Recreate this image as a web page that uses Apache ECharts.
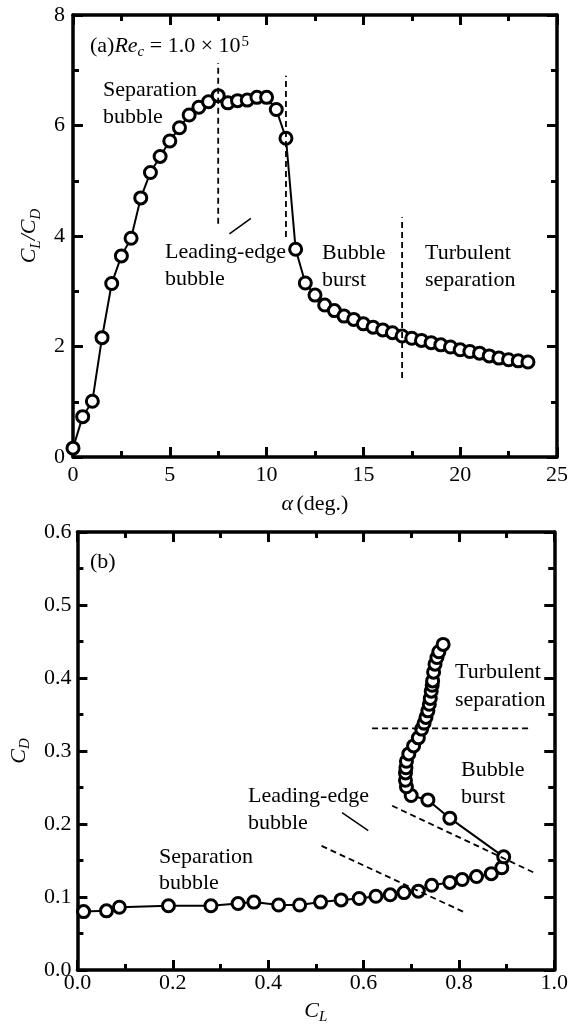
<!DOCTYPE html>
<html>
<head>
<meta charset="utf-8">
<script src="https://cdn.jsdelivr.net/npm/echarts@6/dist/echarts.min.js"></script>
<style>
  html, body { margin: 0; padding: 0; background: #fff; }
  #chart { width: 571px; height: 1026px; }
</style>
</head>
<body>
<div id="chart"></div>
<script>
// angle of attack (deg.)
var alpha = [0, 0.5, 1, 1.5, 2, 2.5, 3, 3.5, 4, 4.5, 5, 5.5, 6, 6.5, 7, 7.5, 8, 8.5, 9, 9.5,
  10, 10.5, 11, 11.5, 12, 12.5, 13, 13.5, 14, 14.5, 15, 15.5, 16, 16.5, 17, 17.5, 18, 18.5,
  19, 19.5, 20, 20.5, 21, 21.5, 22, 22.5, 23, 23.5];
// lift-to-drag ratio CL/CD
var liftDrag = [0.16, 0.73, 1.01, 2.16, 3.14, 3.64, 3.96, 4.69, 5.15, 5.44, 5.72, 5.96, 6.19,
  6.33, 6.43, 6.54, 6.41, 6.45, 6.46, 6.51, 6.51, 6.29, 5.77, 3.76, 3.15, 2.93, 2.75, 2.65,
  2.55, 2.49, 2.41, 2.35, 2.30, 2.25, 2.19, 2.15, 2.11, 2.07, 2.03, 1.99, 1.94, 1.91, 1.88,
  1.83, 1.79, 1.76, 1.74, 1.72];
// lift coefficient CL
var cl = [0.013, 0.061, 0.088, 0.191, 0.280, 0.337, 0.370, 0.422, 0.466, 0.510, 0.553, 0.591,
  0.626, 0.656, 0.685, 0.715, 0.743, 0.781, 0.807, 0.837, 0.868, 0.890, 0.894, 0.781, 0.735,
  0.700, 0.690, 0.688, 0.688, 0.689, 0.690, 0.695, 0.705, 0.715, 0.722, 0.727, 0.731, 0.735,
  0.738, 0.740, 0.742, 0.744, 0.745, 0.747, 0.750, 0.754, 0.758, 0.767];
// drag coefficient CD
var cd = [0.080, 0.081, 0.086, 0.088, 0.088, 0.091, 0.093, 0.089, 0.089, 0.093, 0.096, 0.098,
  0.101, 0.103, 0.106, 0.108, 0.116, 0.120, 0.124, 0.128, 0.132, 0.140, 0.155, 0.208, 0.233,
  0.239, 0.251, 0.260, 0.270, 0.277, 0.286, 0.296, 0.307, 0.318, 0.330, 0.338, 0.346, 0.355,
  0.364, 0.372, 0.382, 0.390, 0.396, 0.408, 0.419, 0.428, 0.436, 0.446];

// regime boundaries, (a): alpha vs CL/CD
var bound75 = [[7.5, 4.22], [7.5, 7.13]];
var bound11 = [[11, 3.98], [11, 6.9]];
var bound17 = [[17, 1.43], [17, 4.34]];
var leaderA = [[8.08, 4.04], [9.19, 4.32]];
// regime boundaries, (b): CL vs CD
var boundTurb = [[0.618, 0.331], [0.951, 0.331]];
var boundBurst = [[0.660, 0.225], [0.962, 0.132]];
var boundLeading = [[0.512, 0.170], [0.815, 0.078]];
var leaderB = [[0.555, 0.2155], [0.610, 0.191]];

var SERIF = '"Liberation Serif", "DejaVu Serif", serif';
var FS = 22;

var chart = echarts.init(document.getElementById('chart'), null, { renderer: 'canvas' });

function pairs(xs, ys) {
  var out = [];
  for (var i = 0; i < xs.length; i++) out.push([xs[i], ys[i]]);
  return out;
}

function mainAxis(gridIndex, pos, min, max, interval, opts) {
  var ax = {
    type: 'value', gridIndex: gridIndex, position: pos,
    min: min, max: max, interval: interval,
    axisLine: { show: true, onZero: false, lineStyle: { color: '#000', width: 3.5 } },
    axisTick: { show: true, inside: true, length: 10, lineStyle: { color: '#000', width: 3 } },
    minorTick: { show: true, splitNumber: 2, length: 6, lineStyle: { color: '#000', width: 3 } },
    splitLine: { show: false },
    axisLabel: { show: false }
  };
  for (var k in opts) ax[k] = opts[k];
  return ax;
}

var richName = {
  i: { fontFamily: SERIF, fontSize: FS, fontStyle: 'italic', color: '#000', lineHeight: 22, verticalAlign: 'top' },
  n: { fontFamily: SERIF, fontSize: FS, color: '#000', lineHeight: 22, verticalAlign: 'top' },
  s: { fontFamily: SERIF, fontSize: 15, fontStyle: 'italic', color: '#000', lineHeight: 15, padding: [10, 0, 0, 0], verticalAlign: 'top' },
  p: { fontFamily: SERIF, fontSize: 15, color: '#000', lineHeight: 15, padding: [0, 0, 0, 1], verticalAlign: 'top' }
};

function labelStyle(margin, fmt) {
  var l = { show: true, color: '#000', fontFamily: SERIF, fontSize: FS, margin: margin };
  if (fmt) l.formatter = fmt;
  return l;
}

function dashed(name, data, xi, yi) {
  return {
    name: name, type: 'line', xAxisIndex: xi, yAxisIndex: yi, data: data,
    symbol: 'none', silent: true, z: 5,
    lineStyle: { color: '#000', width: 1.8, type: [6, 4] }
  };
}
function solid(name, data, xi, yi) {
  return {
    name: name, type: 'line', xAxisIndex: xi, yAxisIndex: yi, data: data,
    symbol: 'none', silent: true, z: 5,
    lineStyle: { color: '#000', width: 1.5 }
  };
}

var dot = {
  symbol: 'circle', symbolSize: 12,
  itemStyle: { color: '#fff', borderColor: '#000', borderWidth: 3 },
  lineStyle: { color: '#000', width: 2 }
};

function fix1(v) { return v.toFixed(1); }

var option = {
  animation: false,
  backgroundColor: '#fff',
  grid: [
    { left: 73, top: 15, width: 486, height: 442 },
    { left: 73, top: 532, width: 486, height: 440 }
  ],
  xAxis: [
    mainAxis(0, 'bottom', 0, 25, 5, {
      axisLabel: labelStyle(7),
      name: '{i|α} {n|(deg.)}', nameLocation: 'middle', nameGap: 36,
      nameTextStyle: { rich: richName }
    }),
    mainAxis(0, 'top', 0, 25, 5, {}),
    mainAxis(1, 'bottom', 0, 1, 0.2, {
      axisLabel: labelStyle(2, fix1),
      name: '{i|C}{s|L}', nameLocation: 'middle', nameGap: 30,
      nameTextStyle: { rich: richName }
    }),
    mainAxis(1, 'top', 0, 1, 0.2, {})
  ],
  yAxis: [
    mainAxis(0, 'left', 0, 8, 2, {
      axisLabel: labelStyle(8),
      name: '{i|C}{s|L}{i|/C}{s|D}', nameLocation: 'middle', nameGap: 32, nameRotate: 90,
      nameTextStyle: { rich: richName }
    }),
    mainAxis(0, 'right', 0, 8, 2, {}),
    mainAxis(1, 'left', 0, 0.6, 0.1, {
      axisLabel: labelStyle(6, fix1),
      name: '{i|C}{s|D}', nameLocation: 'middle', nameGap: 32, nameRotate: 90,
      nameTextStyle: { rich: richName }
    }),
    mainAxis(1, 'right', 0, 0.6, 0.1, {})
  ],
  graphic: [
    { type: 'text', left: 90, top: 35, style: {
        text: '{n|(a)}{i|Re}{s|c}{n| = 1.0 × 10}{p|5}', rich: richName } },
    { type: 'text', left: 103, top: 77, style: {
        text: 'Separation\nbubble', font: FS + 'px ' + SERIF, fill: '#000', lineHeight: 27 } },
    { type: 'text', left: 165, top: 239, style: {
        text: 'Leading-edge\nbubble', font: FS + 'px ' + SERIF, fill: '#000', lineHeight: 27 } },
    { type: 'text', left: 322, top: 240, style: {
        text: 'Bubble\nburst', font: FS + 'px ' + SERIF, fill: '#000', lineHeight: 27 } },
    { type: 'text', left: 425, top: 240, style: {
        text: 'Turbulent\nseparation', font: FS + 'px ' + SERIF, fill: '#000', lineHeight: 27 } },
    { type: 'text', left: 90, top: 551, style: {
        text: '(b)', font: FS + 'px ' + SERIF, fill: '#000' } },
    { type: 'text', left: 455, top: 658, style: {
        text: 'Turbulent\nseparation', font: FS + 'px ' + SERIF, fill: '#000', lineHeight: 28 } },
    { type: 'text', left: 461, top: 757, style: {
        text: 'Bubble\nburst', font: FS + 'px ' + SERIF, fill: '#000', lineHeight: 27 } },
    { type: 'text', left: 248, top: 783, style: {
        text: 'Leading-edge\nbubble', font: FS + 'px ' + SERIF, fill: '#000', lineHeight: 27 } },
    { type: 'text', left: 159, top: 844, style: {
        text: 'Separation\nbubble', font: FS + 'px ' + SERIF, fill: '#000', lineHeight: 26 } }
  ],
  series: [
    Object.assign({ name: 'CL/CD', type: 'line', xAxisIndex: 0, yAxisIndex: 0,
      data: pairs(alpha, liftDrag), z: 3 }, dot),
    Object.assign({ name: 'CD vs CL', type: 'line', xAxisIndex: 2, yAxisIndex: 2,
      data: pairs(cl, cd), z: 3 }, dot),
    dashed('b7.5', bound75, 0, 0),
    dashed('b11', bound11, 0, 0),
    dashed('b17', bound17, 0, 0),
    solid('leaderA', leaderA, 0, 0),
    dashed('turb', boundTurb, 2, 2),
    dashed('burst', boundBurst, 2, 2),
    dashed('leading', boundLeading, 2, 2),
    solid('leaderB', leaderB, 2, 2)
  ]
};

chart.setOption(option);
</script>
</body>
</html>
